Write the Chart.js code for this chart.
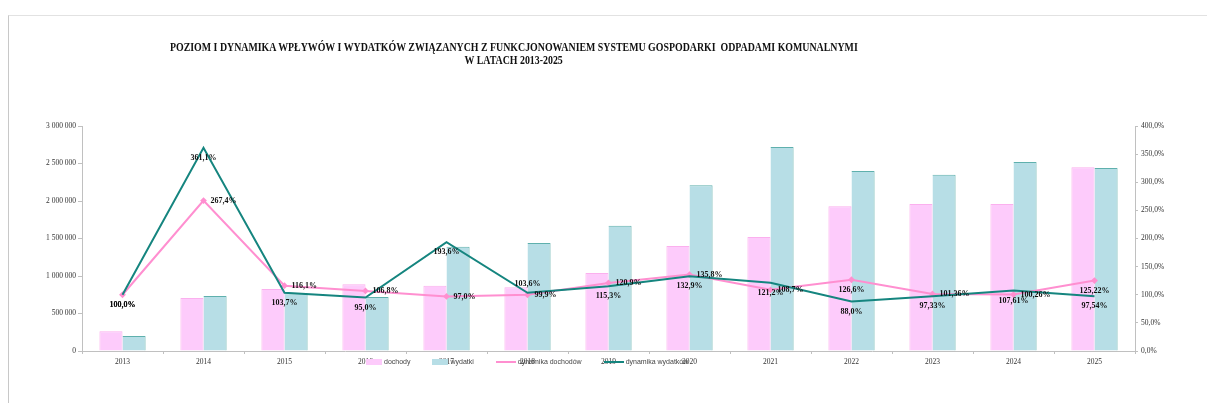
<!DOCTYPE html>
<html>
<head>
<meta charset="utf-8">
<script src="https://cdn.jsdelivr.net/npm/chart.js@4.4.1/dist/chart.umd.min.js"></script>
<style>
  body { margin: 0; background: #fff; }
  #wrap { position: relative; width: 1207px; height: 403px; overflow: hidden; }
  #frame { position: absolute; left: 8px; top: 15px; right: -2px; bottom: -2px; border-top: 1px solid #e2e2e2; border-left: 1px solid #c8c8c8; }
  #title { position: absolute; left: 170px; top: 39px; width: 688px; text-align: center; }
  #title .row { height: 13px; line-height: 13px; white-space: nowrap; }
  #title span { display: inline-block; transform-origin: center top;
    font: bold 12px "Liberation Sans Narrow", "Liberation Serif", serif; color: #111; }
  #legend { position: absolute; top: 358px; left: 366px; display: flex; align-items: center;
    font: 7px "Liberation Sans", Arial, sans-serif; color: #444; }
  #legend .it { display: flex; align-items: center; margin-right: 22px; }
  #legend .box { width: 16px; height: 6px; margin-right: 2px; }
  #legend .ln { width: 20px; height: 2px; margin-right: 2px; }
  canvas { position: absolute; left: 0; top: 0; }
</style>
</head>
<body>
<div id="wrap">
  <div id="frame"></div>
  <canvas id="c" width="1207" height="403"></canvas>
  <div id="title"><div class="row"><span id="t1">POZIOM I DYNAMIKA WPŁYWÓW I WYDATKÓW ZWIĄZANYCH Z FUNKCJONOWANIEM SYSTEMU GOSPODARKI&nbsp; ODPADAMI KOMUNALNYMI</span></div><div class="row"><span id="t2">W LATACH 2013-2025</span></div></div>
  <div id="legend"></div>
</div>
<script>
var years = ['2013','2014','2015','2016','2017','2018','2019','2020','2021','2022','2023','2024','2025'];
var dochody = [265000, 707000, 827000, 890000, 870000, 850000, 1040000, 1400000, 1520000, 1930000, 1960000, 1960000, 2450000];
var wydatki = [200000, 733000, 770000, 720000, 1390000, 1440000, 1670000, 2210000, 2720000, 2400000, 2350000, 2520000, 2440000];
var dynDochodow = [100.0, 267.4, 116.1, 106.8, 97.0, 99.9, 120.9, 135.8, 108.7, 126.6, 101.36, 100.26, 125.22];
var dynWydatkow = [100.0, 361.1, 103.7, 95.0, 193.6, 103.6, 115.3, 132.9, 121.2, 88.0, 97.33, 107.61, 97.54];
var leftTicks = [0, 500000, 1000000, 1500000, 2000000, 2500000, 3000000];
var rightTicks = [0, 50, 100, 150, 200, 250, 300, 350, 400];

// where each percentage label sits relative to its point
var posDochodow = ['b','r','r','r','r','r','r','r','r','b','r','r','b'];
var posWydatkow = ['b','b','b','b','b','t','b','b','b','b','b','b','b'];

var PINK_FILL = '#fdcbfb', PINK_LINE = '#ff8fd0', BLUE_FILL = '#b7dee6', TEAL = '#15857f';

function fmtPct(v, i) {
  return v.toFixed(i >= 10 ? 2 : 1).replace('.', ',') + '%';
}
function fmtNum(v) {
  return String(v).replace(/\B(?=(\d{3})+(?!\d))/g, ' ');
}

var tickFont = { family: "'Liberation Serif', 'Times New Roman', serif", size: 7.5 };

var pctLabels = {
  id: 'pctLabels',
  afterDatasetsDraw: function(chart) {
    var ctx = chart.ctx;
    ctx.save();
    ctx.font = "bold 8px 'Liberation Serif', 'Times New Roman', serif";
    ctx.fillStyle = '#111';
    ctx.textBaseline = 'middle';
    [[2, posDochodow, dynDochodow], [3, posWydatkow, dynWydatkow]].forEach(function(s) {
      var meta = chart.getDatasetMeta(s[0]);
      meta.data.forEach(function(pt, i) {
        var p = s[1][i], x = pt.x, y = pt.y;
        if (p === 'r') { ctx.textAlign = 'left'; x += 7; }
        else if (p === 'b') { ctx.textAlign = 'center'; y += 10; }
        else { ctx.textAlign = 'center'; y -= 9; }
        ctx.fillText(fmtPct(s[2][i], i), x, y);
      });
    });
    ctx.restore();
  }
};

new Chart(document.getElementById('c'), {
  data: {
    labels: years,
    datasets: [
      { type: 'bar', label: 'dochody', data: dochody, backgroundColor: PINK_FILL, borderColor: '#fbb0ee', borderWidth: 1, yAxisID: 'y', order: 2 },
      { type: 'bar', label: 'wydatki', data: wydatki, backgroundColor: BLUE_FILL, borderColor: '#5fb0ad', borderWidth: {top: 1, right: 1, left: 0, bottom: 0}, yAxisID: 'y', order: 2 },
      { type: 'line', label: 'dynamika dochodów', data: dynDochodow, borderColor: PINK_LINE, backgroundColor: PINK_LINE, borderWidth: 2, pointRadius: 2, pointStyle: 'rectRot', tension: 0, yAxisID: 'y1', order: 1 },
      { type: 'line', label: 'dynamika wydatków', data: dynWydatkow, borderColor: TEAL, backgroundColor: TEAL, borderWidth: 2, pointRadius: 0, tension: 0, yAxisID: 'y1', order: 0 }
    ]
  },
  options: {
    responsive: false,
    animation: false,
    events: [],
    layout: { padding: { left: 0, right: 0, top: 126, bottom: 32 } },
    datasets: { bar: { barPercentage: 1, categoryPercentage: 0.57 } },
    plugins: { legend: { display: false }, tooltip: { enabled: false }, title: { display: false } },
    scales: {
      x: {
        grid: { display: true, drawOnChartArea: false, tickLength: 3, color: '#c0c0c0' },
        border: { color: '#c0c0c0' },
        ticks: { font: tickFont, color: '#333', padding: 4, maxRotation: 0 },
        afterFit: function(s) { s.height = 20; }
      },
      y: {
        position: 'left', min: 0, max: 3000000,
        grid: { display: true, drawOnChartArea: false, tickLength: 4, color: '#c0c0c0' },
        border: { color: '#c0c0c0' },
        afterBuildTicks: function(s) { s.ticks = leftTicks.map(function(v) { return { value: v }; }); },
        ticks: { font: tickFont, color: '#333', padding: 2, callback: function(v) { return fmtNum(v); } },
        afterFit: function(s) { s.width = 82; }
      },
      y1: {
        position: 'right', min: 0, max: 400,
        grid: { display: true, drawOnChartArea: false, tickLength: 3, color: '#c0c0c0' },
        border: { color: '#c0c0c0' },
        afterBuildTicks: function(s) { s.ticks = rightTicks.map(function(v) { return { value: v }; }); },
        ticks: { font: tickFont, color: '#333', padding: 3, callback: function(v) { return v.toFixed(1).replace('.', ',') + '%'; } },
        afterFit: function(s) { s.width = 72; }
      }
    }
  },
  plugins: [pctLabels]
});

// squeeze the title to the width it has in the original
var t1 = document.getElementById('t1'), t2 = document.getElementById('t2');
var k = 688 / t1.offsetWidth;
t1.style.transform = 'scaleX(' + k + ')';
t2.style.transform = 'scaleX(' + k + ')';
t1.style.margin = '0 ' + (-(t1.offsetWidth * (1 - k)) / 2) + 'px';

// legend drawn over the axis labels, as in the original sheet
var legendItems = [
  { text: 'dochody', kind: 'box', color: PINK_FILL },
  { text: 'wydatki', kind: 'box', color: BLUE_FILL },
  { text: 'dynamika dochodów', kind: 'line', color: PINK_LINE },
  { text: 'dynamika wydatków', kind: 'line', color: TEAL }
];
var lg = document.getElementById('legend');
legendItems.forEach(function(it) {
  var d = document.createElement('div');
  d.className = 'it';
  var m = document.createElement('span');
  m.className = it.kind === 'box' ? 'box' : 'ln';
  m.style.background = it.color;
  d.appendChild(m);
  d.appendChild(document.createTextNode(it.text));
  lg.appendChild(d);
});
</script>
</body>
</html>
